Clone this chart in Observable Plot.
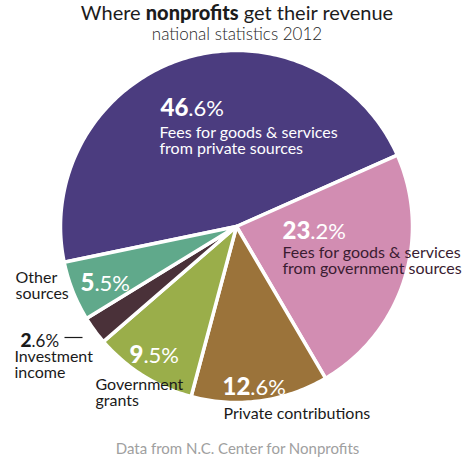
<!DOCTYPE html>
<html><head><meta charset="utf-8">
<script src="https://cdn.jsdelivr.net/npm/d3@7"></script>
<script src="https://cdn.jsdelivr.net/npm/@observablehq/plot@0.6"></script>
<style>
body{margin:0;background:#fff;font-family:Lato,"Open Sans",sans-serif;}
#wrap{width:474px;height:462px;overflow:hidden;}
.t{height:24px;line-height:24px;font-size:20px;text-align:center;color:#1c1c1c;white-space:nowrap}
.t b{font-weight:900}
.s{height:20px;line-height:20px;font-size:17px;font-weight:300;text-align:center;color:#262626;white-space:nowrap}
#chart svg{display:block}
</style></head><body><div id="wrap">
<div class="t" id="title"></div>
<div class="s" id="subtitle"></div>
<div id="chart"></div>
</div>
<script>
// ---- data ----
const categories = [
  "Fees for goods & services\nfrom private sources",
  "Fees for goods & services\nfrom government sources",
  "Private contributions",
  "Government\ngrants",
  "Investment\nincome",
  "Other\nsources"
];
const values = [46.6, 23.2, 12.6, 9.5, 2.6, 5.5];
const colors = ["#4b3c7f", "#d28db2", "#9b733a", "#9aae4a", "#4a3139", "#60a98b"];
const titleParts = ["Where ", "nonprofits", " get their revenue"];
const subtitle = "national statistics 2012";
const caption = "Data from N.C. Center for Nonprofits";

// ---- layout (pixels within the svg) ----
const W = 474, H = 418;
const cx = 236, cy = 182, R = 176;
const startDeg = -101.7;
const pctX   = [160, 282, 222, 129, 20, 80];     // left edge of percentage
const pctY   = [71, 194, 350, 318, 302, 246];    // baseline
const pctBig = [24, 24, 24, 24, 19, 24];         // size of bold part
const nameX  = [159, 282, 223, 95, 14, 15];
const nameY  = [109, 229, 374, 361, 333, 254];   // baseline of last line
const lineGap = 16;
const pctColor  = ["#ffffff", "#ffffff", "#ffffff", "#ffffff", "#1a1a1a", "#ffffff"];
const nameColor = ["#ffffff", "#3a1c31", "#1a1a1a", "#1a1a1a", "#1a1a1a", "#1a1a1a"];

document.getElementById("title").innerHTML = `${titleParts[0]}<b>${titleParts[1]}</b>${titleParts[2]}`;
document.getElementById("subtitle").textContent = subtitle;

const rows = categories.map((c, i) => ({cat: c, value: values[i], i}));
const arcs = d3.pie().sort(null).value(d => d.value)
  .startAngle(startDeg * Math.PI / 180)
  .endAngle(startDeg * Math.PI / 180 + 2 * Math.PI)(rows);

const pts = [];
for (const a of arcs) {
  const n = Math.max(2, Math.ceil((a.endAngle - a.startAngle) / (Math.PI / 180)));
  pts.push({cat: a.data.cat, x: cx, y: cy});
  for (let k = 0; k <= n; k++) {
    const t = a.startAngle + (a.endAngle - a.startAngle) * k / n;
    pts.push({cat: a.data.cat, x: cx + R * Math.sin(t), y: cy - R * Math.cos(t)});
  }
}

const pctLabels = rows.map((d, i) => ({
  text: d3.format(".1f")(d.value) + "%", x: pctX[i], y: pctY[i], color: pctColor[i], big: pctBig[i]
}));
const nameLines = rows.flatMap((d, i) => {
  const lines = d.cat.split("\n");
  return lines.map((s, j) => ({text: s, x: nameX[i], y: nameY[i] - (lines.length - 1 - j) * lineGap, color: nameColor[i]}));
});

const font = "Lato";
const nameSize = 16;

const plot = Plot.plot({
  width: W, height: H,
  margin: 0,
  x: {type: "identity", axis: null},
  y: {type: "identity", axis: null},
  color: {domain: categories, range: colors},
  style: {fontFamily: font, background: "white"},
  marks: [
    Plot.line(pts, {x: "x", y: "y", z: "cat", fill: "cat", stroke: "white",
      strokeWidth: 3.5, strokeLinejoin: "round", curve: "linear-closed"}),
    ...["#ffffff", "#1a1a1a"].map(c =>
      Plot.text(pctLabels, {filter: d => d.color === c, x: "x", y: "y", text: "text", textAnchor: "start",
        lineAnchor: "bottom", fontSize: 22, fill: c, fontFamily: font})),
    ...["#ffffff", "#3a1c31", "#1a1a1a"].map(c =>
      Plot.text(nameLines, {filter: d => d.color === c, x: "x", y: "y", text: "text", textAnchor: "start",
        lineAnchor: "bottom", fontSize: nameSize, fill: c, fontFamily: font})),
    // leader line for the small slice
    Plot.link(pctLabels, {filter: d => d.color !== "#ffffff", x1: d => d.x + 44, x2: d => d.x + 62,
      y1: d => d.y - 9, y2: d => d.y - 9, stroke: "#1a1a1a", strokeWidth: 1.2}),
    // caption
    Plot.text([caption], {frameAnchor: "bottom", text: d => d, lineAnchor: "bottom", dy: -9,
      fontSize: 15, fill: "#a0a0a0", fontFamily: font})
  ]
});

// bold integer part, light decimal part of each percentage
const bigByText = new Map(pctLabels.map(d => [d.text, d.big]));
d3.select(plot).selectAll("text").each(function () {
  const s = this.textContent;
  const m = s.match(/^(\d+)(\.\d%)$/);
  if (!m) return;
  const big = bigByText.get(s);
  const el = d3.select(this);
  el.text(null);
  el.append("tspan").attr("font-weight", 900).attr("font-size", big).text(m[1]);
  el.append("tspan").attr("font-weight", 400).attr("font-size", big - 2).text(m[2]);
});
document.getElementById("chart").appendChild(plot);
</script>
</body></html>
